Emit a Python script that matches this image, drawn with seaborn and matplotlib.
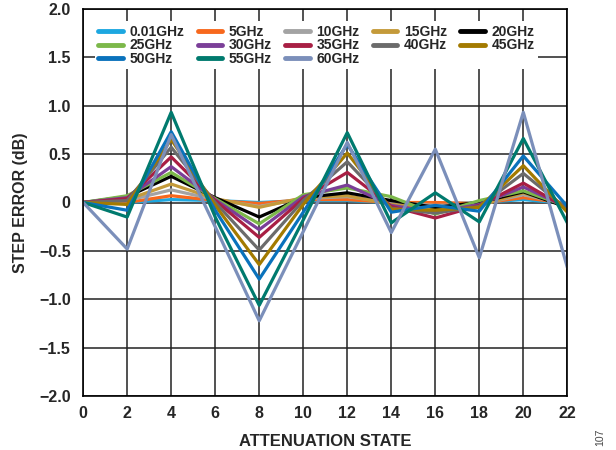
import numpy as np
import pandas as pd
import matplotlib
matplotlib.use("Agg")
import matplotlib.pyplot as plt
import seaborn as sns

states = [0, 2, 4, 6, 8, 10, 12, 14, 16, 18, 20, 22]
freqs = ["0.01GHz", "5GHz", "10GHz", "15GHz", "20GHz", "25GHz", "30GHz",
         "35GHz", "40GHz", "45GHz", "50GHz", "55GHz", "60GHz"]
colors = ["#1da7e0", "#f7681d", "#a3a3a3", "#c49a3a", "#000000", "#7cb84a",
          "#7b3f98", "#a81f44", "#6b6b6b", "#a37a00", "#0a72bc", "#007a6e", "#7b8fba"]

err_0p01 = [0, 0.00, 0.03, 0.02, 0.00, 0.02, 0.02, 0.00, -0.02, 0.00, 0.03, -0.01]
err_5 = [0, 0.00, 0.07, 0.02, -0.01, 0.03, 0.03, 0.00, 0.00, -0.01, 0.05, -0.01]
err_10 = [0, 0.02, 0.13, 0.03, -0.04, 0.04, 0.06, 0.00, -0.03, -0.02, 0.08, -0.02]
err_15 = [0, 0.03, 0.19, 0.04, -0.05, 0.05, 0.07, -0.02, -0.06, -0.03, 0.10, -0.03]
err_20 = [0, 0.06, 0.27, 0.05, -0.15, 0.05, 0.10, 0.02, -0.05, 0.00, 0.11, -0.05]
err_25 = [0, 0.07, 0.31, 0.04, -0.22, 0.08, 0.15, 0.06, -0.12, 0.02, 0.12, -0.04]
err_30 = [0, 0.05, 0.37, 0.03, -0.28, 0.06, 0.18, -0.03, -0.10, -0.02, 0.16, -0.05]
err_35 = [0, 0.04, 0.47, 0.02, -0.36, 0.04, 0.31, -0.04, -0.16, -0.03, 0.20, -0.06]
err_40 = [0, 0.02, 0.57, 0.00, -0.49, 0.02, 0.42, -0.06, -0.11, -0.04, 0.30, -0.07]
err_45 = [0, -0.02, 0.65, -0.03, -0.64, -0.02, 0.51, -0.07, -0.08, -0.05, 0.38, -0.10]
err_50 = [0, -0.08, 0.73, -0.08, -0.79, -0.10, 0.60, -0.10, -0.03, -0.09, 0.48, -0.04]
err_55 = [0, -0.15, 0.93, -0.15, -1.06, -0.18, 0.72, -0.21, 0.10, -0.20, 0.66, -0.21]
err_60 = [0, -0.48, 0.70, -0.25, -1.22, -0.30, 0.62, -0.31, 0.55, -0.57, 0.93, -0.67]

series = [err_0p01, err_5, err_10, err_15, err_20, err_25, err_30,
          err_35, err_40, err_45, err_50, err_55, err_60]

rows = []
for f, vals in zip(freqs, series):
    for s, v in zip(states, vals):
        rows.append({"state": s, "err": v, "freq": f})
df = pd.DataFrame(rows)

sns.set_style("white")
plt.rcParams["font.family"] = ["Liberation Sans", "DejaVu Sans"]

fig = plt.figure(figsize=(6.16, 4.5), dpi=100)
ax = fig.add_axes([0.135, 0.119, 0.786, 0.862])

sns.lineplot(data=df, x="state", y="err", hue="freq", hue_order=freqs,
             palette=colors, linewidth=2.3, ax=ax, legend=True)

ax.set_xlim(0, 22)
ax.set_ylim(-2.0, 2.0)
ax.set_xticks(states)
ax.set_xticklabels([str(s) for s in states])
yt = [-2.0, -1.5, -1.0, -0.5, 0, 0.5, 1.0, 1.5, 2.0]
ax.set_yticks(yt)
ax.set_yticklabels(["\u22122.0", "\u22121.5", "\u22121.0", "\u22120.5", "0",
                    "0.5", "1.0", "1.5", "2.0"])
ax.grid(True, color="#222222", linewidth=1.1)
ax.set_axisbelow(True)
for sp in ax.spines.values():
    sp.set_color("black")
    sp.set_linewidth(1.2)
ax.tick_params(axis="both", length=0, labelsize=11.5)
ax.tick_params(axis="y", pad=9)
ax.tick_params(axis="x", pad=7)
for lab in ax.get_xticklabels() + ax.get_yticklabels():
    lab.set_fontweight("bold")
ax.set_xlabel("ATTENUATION STATE", fontsize=12, fontweight="bold", labelpad=9)
ax.set_ylabel("STEP ERROR (dB)", fontsize=11.5, fontweight="bold", labelpad=8)

handles, labels = ax.get_legend_handles_labels()
hmap = dict(zip(labels, handles))
order = ["0.01GHz", "25GHz", "50GHz", "5GHz", "30GHz", "55GHz", "10GHz",
         "35GHz", "60GHz", "15GHz", "40GHz", "20GHz", "45GHz"]
leg = ax.legend([hmap[o] for o in order], order, ncol=5, loc="upper left",
                bbox_to_anchor=(0.01, 0.985), frameon=True, facecolor="white",
                edgecolor="none", framealpha=1.0,
                fontsize=10, handlelength=1.75, handletextpad=0.5,
                columnspacing=0.95, labelspacing=-0.03, borderpad=0.25)
for t in leg.get_texts():
    t.set_fontweight("bold")
for l in leg.get_lines():
    l.set_linewidth(3.5)

fig.text(0.975, 0.01, "107", rotation=90, fontsize=7.5, color="#444444",
         ha="center", va="bottom")

fig.savefig("out.png", dpi=100)
